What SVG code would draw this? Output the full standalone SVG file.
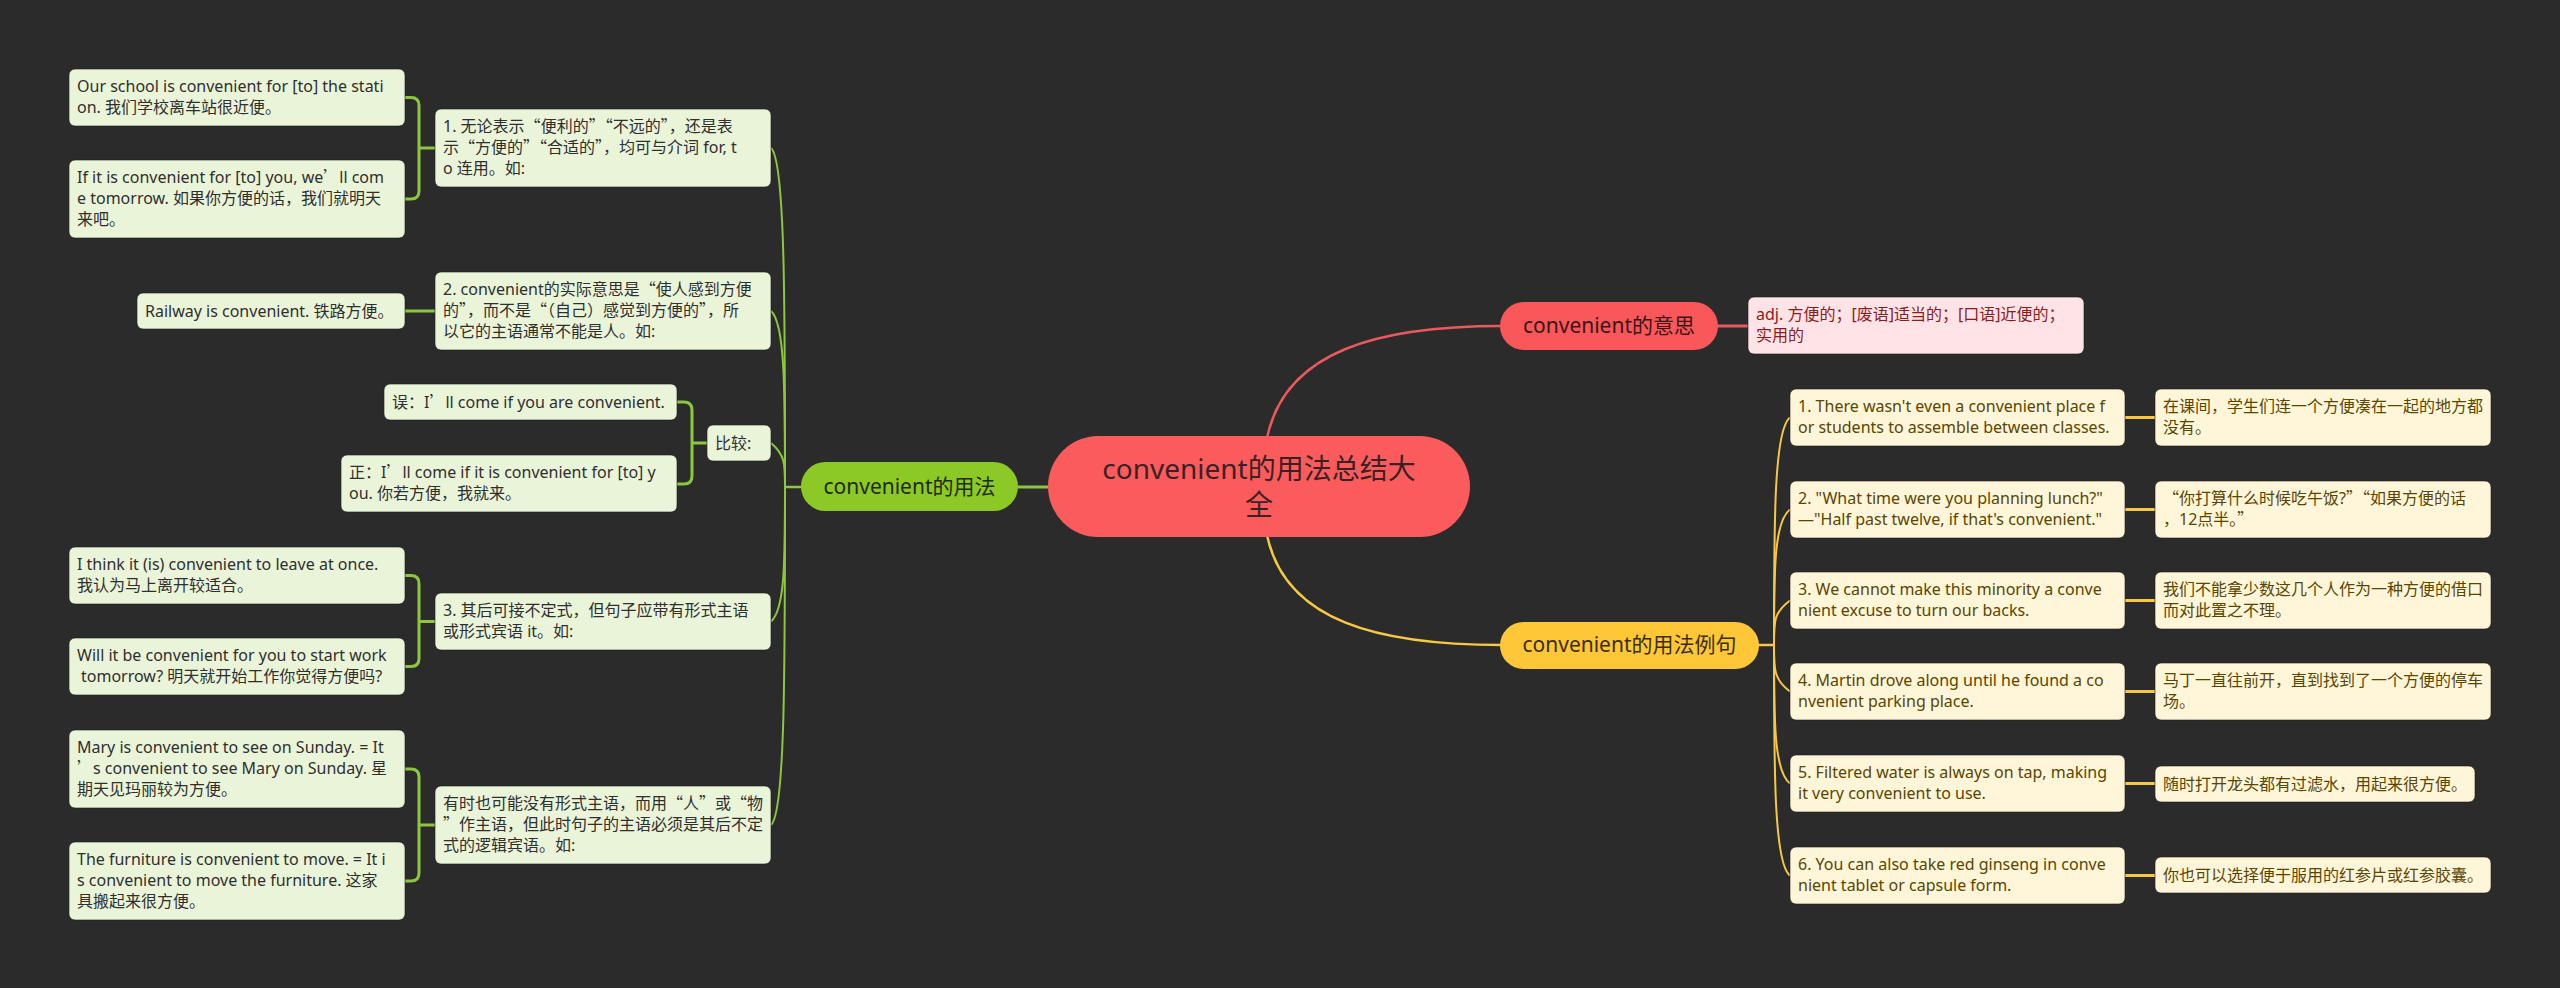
<svg xmlns="http://www.w3.org/2000/svg" width="2560" height="988" viewBox="0 0 2560 988">
<style>
text{font-family:"Noto Sans","Noto Sans CJK SC",sans-serif;}
.q{font-family:"Noto Sans CJK SC","Noto Sans",sans-serif;}
.t{font-size:16px;}
.gb{fill:#EAF4D8;stroke:#1a1a1a;stroke-opacity:.6;stroke-width:1;}
.gt{fill:#2f2f2f;}
.yb{fill:#FFF5D8;stroke:#1a1a1a;stroke-opacity:.6;stroke-width:1;}
.yt{fill:#5a4600;}
.pb{fill:#FFE3E6;stroke:#1a1a1a;stroke-opacity:.6;stroke-width:1;}
.pt{fill:#8a1c1c;}
.gl{fill:none;stroke:#8DC63F;}
.yl{fill:none;stroke:#F6C843;}
.rl{fill:none;stroke:#E9595D;}
.main{font-size:21px;text-anchor:middle;}
</style>
<rect x="0" y="0" width="2560" height="988" fill="#2b2b2b"/>

<g id="connectors">
  <!-- center to main branches -->
  <path class="gl" stroke-width="3" d="M1048 487 H1016"/>
  <path class="rl" stroke-width="2.5" d="M1267 438 C1285 350 1380 326 1502 326"/>
  <path class="yl" stroke-width="2.5" d="M1267 535 C1285 622 1380 645 1502 645"/>
  <path class="rl" stroke-width="3" d="M1716 326 H1748"/>
  <!-- left trunk -->
  <path class="gl" stroke-width="2.5" d="M803 487 H785"/>
  <path class="gl" stroke-width="2" d="M785 487 C785 300.5 785 160 771 148"/>
  <path class="gl" stroke-width="2" d="M785 487 C785 390 785 323 771 311"/>
  <path class="gl" stroke-width="2" d="M785 487 C785 463 785 455 771 443"/>
  <path class="gl" stroke-width="2" d="M785 487 C785 561 785 609.5 771 621.5"/>
  <path class="gl" stroke-width="2" d="M785 487 C785 673 785 813 771 825"/>
  <!-- left brackets -->
  <path class="gl" stroke-width="3" d="M405 97.5 H411 Q419 97.5 419 105.5 V191 Q419 199 411 199 H405 M419 148 H435"/>
  <path class="gl" stroke-width="3" d="M405 311 H435"/>
  <path class="gl" stroke-width="3" d="M677 402 H684 Q692 402 692 410 V476 Q692 484 684 484 H677 M692 443 H707"/>
  <path class="gl" stroke-width="3" d="M405 575.5 H411 Q419 575.5 419 583.5 V658.5 Q419 666.5 411 666.5 H405 M419 621.5 H435"/>
  <path class="gl" stroke-width="3" d="M405 769 H411 Q419 769 419 777 V873 Q419 881 411 881 H405 M419 825 H435"/>
  <!-- right trunk -->
  <path class="yl" stroke-width="2.5" d="M1757 645 H1774"/>
  <path class="yl" stroke-width="2" d="M1774 645 C1774 520 1774 429.5 1790 417.5"/>
  <path class="yl" stroke-width="2" d="M1774 645 C1774 570.5 1774 521.5 1790 509.5"/>
  <path class="yl" stroke-width="2" d="M1774 645 C1774 620.5 1774 612.5 1790 600.5"/>
  <path class="yl" stroke-width="2" d="M1774 645 C1774 670.5 1774 679.5 1790 691.5"/>
  <path class="yl" stroke-width="2" d="M1774 645 C1774 721 1774 771.5 1790 783.5"/>
  <path class="yl" stroke-width="2" d="M1774 645 C1774 772 1774 863.5 1790 875.5"/>
  <!-- example to translation -->
  <path class="yl" stroke-width="3" d="M2125 417.5 H2155 M2125 509.5 H2155 M2125 600.5 H2155 M2125 691.5 H2155 M2125 783.5 H2155 M2125 875.5 H2155"/>
</g>

<g id="center">
  <rect x="1048" y="436" width="422" height="101" rx="50.5" fill="#FC5B5E"/>
  <text x="1259" y="479" font-size="28" text-anchor="middle" fill="#3a2222">convenient的用法总结大</text>
  <text x="1259" y="515" font-size="28" text-anchor="middle" fill="#3a2222">全</text>
</g>

<g id="n-usage">
  <rect x="801" y="462" width="217" height="49" rx="24.5" fill="#8CC826"/>
  <text class="main" x="909.5" y="494" fill="#1f2c0b">convenient的用法</text>
</g>

<g id="n-meaning">
  <rect x="1500" y="302" width="218" height="48" rx="24" fill="#F9575A"/>
  <text class="main" x="1609" y="333" fill="#3d1515">convenient的意思</text>
</g>

<g id="n-meaning-1">
  <rect class="pb" x="1748" y="297" width="336" height="57" rx="6"/>
  <text class="t pt" x="1756" y="320">adj. 方便的；[废语]适当的；[口语]近便的；<tspan x="1756" dy="21">实用的</tspan></text>
</g>

<g id="n-examples">
  <rect x="1500" y="622" width="259" height="47" rx="23.5" fill="#FDC737"/>
  <text class="main" x="1629.5" y="652" fill="#3b2e05">convenient的用法例句</text>
</g>

<g id="a1">
  <rect class="gb" x="69" y="69" width="336" height="57" rx="6"/>
  <text class="t gt" x="77" y="92">Our school is convenient for [to] the stati<tspan x="77" dy="21">on. 我们学校离车站很近便。</tspan></text>
</g>
<g id="a2">
  <rect class="gb" x="69" y="160" width="336" height="78" rx="6"/>
  <text class="t gt" x="77" y="183">If it is convenient for [to] you, we<tspan class="q">’</tspan>ll com<tspan x="77" dy="21">e tomorrow. 如果你方便的话，我们就明天</tspan><tspan x="77" dy="21">来吧。</tspan></text>
</g>
<g id="b1">
  <rect class="gb" x="435" y="109" width="336" height="78" rx="6"/>
  <text class="t gt" x="443" y="132">1. 无论表示<tspan class="q">“</tspan>便利的<tspan class="q">”</tspan><tspan class="q">“</tspan>不远的<tspan class="q">”</tspan>，还是表<tspan x="443" dy="21">示<tspan class="q">“</tspan>方便的<tspan class="q">”</tspan><tspan class="q">“</tspan>合适的<tspan class="q">”</tspan>，均可与介词 for, t</tspan><tspan x="443" dy="21">o 连用。如:</tspan></text>
</g>
<g id="a3">
  <rect class="gb" x="137" y="293" width="268" height="36" rx="6"/>
  <text class="t gt" x="145" y="317">Railway is convenient. 铁路方便。</text>
</g>
<g id="b2">
  <rect class="gb" x="435" y="272" width="336" height="78" rx="6"/>
  <text class="t gt" x="443" y="295">2. convenient的实际意思是<tspan class="q">“</tspan>使人感到方便<tspan x="443" dy="21">的<tspan class="q">”</tspan>，而不是<tspan class="q">“</tspan>（自己）感觉到方便的<tspan class="q">”</tspan>，所</tspan><tspan x="443" dy="21">以它的主语通常不能是人。如:</tspan></text>
</g>
<g id="a4">
  <rect class="gb" x="384" y="384" width="293" height="36" rx="6"/>
  <text class="t gt" x="392" y="408">误：I<tspan class="q">’</tspan>ll come if you are convenient.</text>
</g>
<g id="a5">
  <rect class="gb" x="341" y="455" width="336" height="57" rx="6"/>
  <text class="t gt" x="349" y="478">正：I<tspan class="q">’</tspan>ll come if it is convenient for [to] y<tspan x="349" dy="21">ou. 你若方便，我就来。</tspan></text>
</g>
<g id="b3">
  <rect class="gb" x="707" y="425" width="64" height="36" rx="6"/>
  <text class="t gt" x="715" y="449">比较:</text>
</g>
<g id="a6">
  <rect class="gb" x="69" y="547" width="336" height="57" rx="6"/>
  <text class="t gt" x="77" y="570">I think it (is) convenient to leave at once.<tspan x="77" dy="21">我认为马上离开较适合。</tspan></text>
</g>
<g id="a7">
  <rect class="gb" x="69" y="638" width="336" height="57" rx="6"/>
  <text class="t gt" x="77" y="661">Will it be convenient for you to start work<tspan x="81" dy="21">tomorrow? 明天就开始工作你觉得方便吗?</tspan></text>
</g>
<g id="b4">
  <rect class="gb" x="435" y="593" width="336" height="57" rx="6"/>
  <text class="t gt" x="443" y="616">3. 其后可接不定式，但句子应带有形式主语<tspan x="443" dy="21">或形式宾语 it。如:</tspan></text>
</g>
<g id="a8">
  <rect class="gb" x="69" y="730" width="336" height="78" rx="6"/>
  <text class="t gt" x="77" y="753">Mary is convenient to see on Sunday. = It<tspan x="77" dy="21"><tspan class="q">’</tspan>s convenient to see Mary on Sunday. 星</tspan><tspan x="77" dy="21">期天见玛丽较为方便。</tspan></text>
</g>
<g id="a9">
  <rect class="gb" x="69" y="842" width="336" height="78" rx="6"/>
  <text class="t gt" x="77" y="865">The furniture is convenient to move. = It i<tspan x="77" dy="21">s convenient to move the furniture. 这家</tspan><tspan x="77" dy="21">具搬起来很方便。</tspan></text>
</g>
<g id="b5">
  <rect class="gb" x="435" y="786" width="336" height="78" rx="6"/>
  <text class="t gt" x="443" y="809">有时也可能没有形式主语，而用<tspan class="q">“</tspan>人<tspan class="q">”</tspan>或<tspan class="q">“</tspan>物<tspan x="443" dy="21"><tspan class="q">”</tspan>作主语，但此时句子的主语必须是其后不定</tspan><tspan x="443" dy="21">式的逻辑宾语。如:</tspan></text>
</g>

<g id="e1">
  <rect class="yb" x="1790" y="389" width="335" height="57" rx="6"/>
  <text class="t yt" x="1798" y="412">1. There wasn't even a convenient place f<tspan x="1798" dy="21">or students to assemble between classes.</tspan></text>
</g>
<g id="t1">
  <rect class="yb" x="2155" y="389" width="336" height="57" rx="6"/>
  <text class="t yt" x="2163" y="412">在课间，学生们连一个方便凑在一起的地方都<tspan x="2163" dy="21">没有。</tspan></text>
</g>
<g id="e2">
  <rect class="yb" x="1790" y="481" width="335" height="57" rx="6"/>
  <text class="t yt" x="1798" y="504">2. "What time were you planning lunch?"<tspan x="1798" dy="21">—"Half past twelve, if that's convenient."</tspan></text>
</g>
<g id="t2">
  <rect class="yb" x="2155" y="481" width="336" height="57" rx="6"/>
  <text class="t yt" x="2163" y="504"><tspan class="q">“</tspan>你打算什么时候吃午饭?<tspan class="q">”</tspan><tspan class="q">“</tspan>如果方便的话<tspan x="2163" dy="21">，12点半。<tspan class="q">”</tspan></tspan></text>
</g>
<g id="e3">
  <rect class="yb" x="1790" y="572" width="335" height="57" rx="6"/>
  <text class="t yt" x="1798" y="595">3. We cannot make this minority a conve<tspan x="1798" dy="21">nient excuse to turn our backs.</tspan></text>
</g>
<g id="t3">
  <rect class="yb" x="2155" y="572" width="336" height="57" rx="6"/>
  <text class="t yt" x="2163" y="595">我们不能拿少数这几个人作为一种方便的借口<tspan x="2163" dy="21">而对此置之不理。</tspan></text>
</g>
<g id="e4">
  <rect class="yb" x="1790" y="663" width="335" height="57" rx="6"/>
  <text class="t yt" x="1798" y="686">4. Martin drove along until he found a co<tspan x="1798" dy="21">nvenient parking place.</tspan></text>
</g>
<g id="t4">
  <rect class="yb" x="2155" y="663" width="336" height="57" rx="6"/>
  <text class="t yt" x="2163" y="686">马丁一直往前开，直到找到了一个方便的停车<tspan x="2163" dy="21">场。</tspan></text>
</g>
<g id="e5">
  <rect class="yb" x="1790" y="755" width="335" height="57" rx="6"/>
  <text class="t yt" x="1798" y="778">5. Filtered water is always on tap, making<tspan x="1798" dy="21">it very convenient to use.</tspan></text>
</g>
<g id="t5">
  <rect class="yb" x="2155" y="766" width="320" height="36" rx="6"/>
  <text class="t yt" x="2163" y="790">随时打开龙头都有过滤水，用起来很方便。</text>
</g>
<g id="e6">
  <rect class="yb" x="1790" y="847" width="335" height="57" rx="6"/>
  <text class="t yt" x="1798" y="870">6. You can also take red ginseng in conve<tspan x="1798" dy="21">nient tablet or capsule form.</tspan></text>
</g>
<g id="t6">
  <rect class="yb" x="2155" y="857" width="336" height="36" rx="6"/>
  <text class="t yt" x="2163" y="881">你也可以选择便于服用的红参片或红参胶囊。</text>
</g>
</svg>
